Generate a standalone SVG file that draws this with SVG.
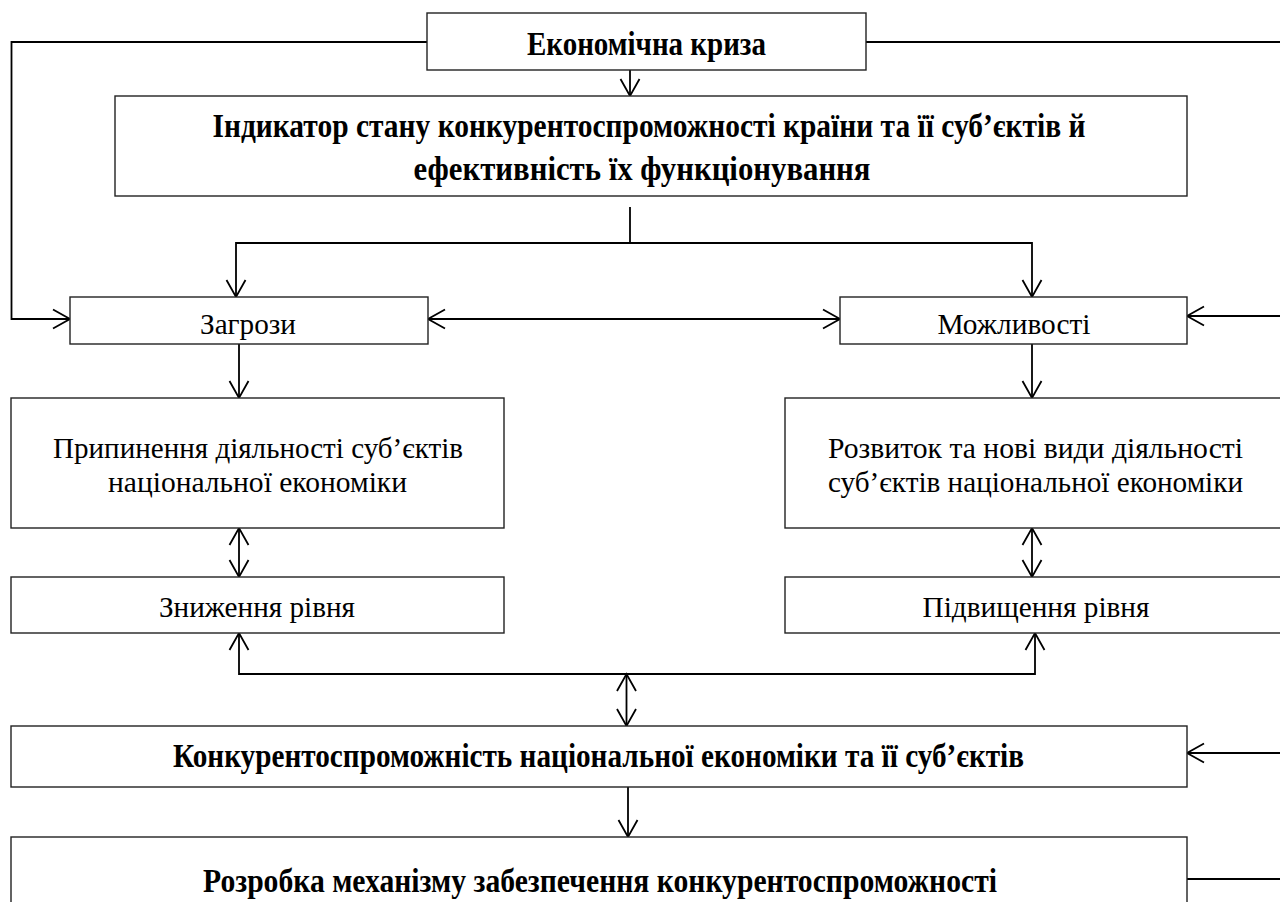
<svg xmlns="http://www.w3.org/2000/svg" width="1280" height="902" viewBox="0 0 1280 902">
<style>
.box{fill:#fff;stroke:#222;stroke-width:1.4}
.c{fill:none;stroke:#000;stroke-width:1.8}
.b{font-family:"Liberation Serif","Times New Roman",serif;font-weight:bold;font-size:34px;fill:#000}
.r{font-family:"Liberation Serif","Times New Roman",serif;font-size:30px;fill:#000}
</style>
<defs>
<marker id="ah" viewBox="-19 -11 21 22" refX="0" refY="0" markerWidth="21" markerHeight="22" markerUnits="userSpaceOnUse" orient="auto-start-reverse">
<path d="M-17,-9.5 L0,0 L-17,9.5" fill="none" stroke="#000" stroke-width="1.8"/>
</marker>
</defs>
<rect width="1280" height="902" fill="#fff"/>
<g id="connectors">
<polyline class="c" points="427,42 11.5,42 11.5,319 70,319" marker-end="url(#ah)"/>
<line class="c" x1="866" y1="42" x2="1282" y2="42"/>
<line class="c" x1="630" y1="70" x2="630" y2="96" marker-end="url(#ah)"/>
<line class="c" x1="630" y1="207" x2="630" y2="243"/>
<polyline class="c" points="236,297 236,243 1032,243 1032,297" marker-start="url(#ah)" marker-end="url(#ah)"/>
<line class="c" x1="428" y1="319" x2="840" y2="319" marker-start="url(#ah)" marker-end="url(#ah)"/>
<line class="c" x1="1282" y1="316" x2="1187" y2="316" marker-end="url(#ah)"/>
<line class="c" x1="239" y1="344" x2="239" y2="398" marker-end="url(#ah)"/>
<line class="c" x1="1032" y1="344" x2="1032" y2="398" marker-end="url(#ah)"/>
<line class="c" x1="239" y1="528" x2="239" y2="577" marker-start="url(#ah)" marker-end="url(#ah)"/>
<line class="c" x1="1032" y1="528" x2="1032" y2="577" marker-start="url(#ah)" marker-end="url(#ah)"/>
<polyline class="c" points="239,633 239,674 1035,674 1035,633" marker-start="url(#ah)" marker-end="url(#ah)"/>
<line class="c" x1="626.5" y1="674" x2="626.5" y2="726" marker-start="url(#ah)" marker-end="url(#ah)"/>
<line class="c" x1="1282" y1="753" x2="1187" y2="753" marker-end="url(#ah)"/>
<line class="c" x1="628" y1="787" x2="628" y2="837" marker-end="url(#ah)"/>
<line class="c" x1="1187" y1="879" x2="1282" y2="879"/>
</g>
<g id="crisis">
<rect class="box" x="427" y="13" width="439" height="57"/>
<text class="b" x="646.5" y="55" text-anchor="middle" textLength="239" lengthAdjust="spacingAndGlyphs">Економічна криза</text>
</g>
<g id="indicator">
<rect class="box" x="115" y="96" width="1072" height="100"/>
<text class="b" x="649" y="137" text-anchor="middle" textLength="873" lengthAdjust="spacingAndGlyphs">Індикатор стану конкурентоспроможності країни та її суб’єктів й</text>
<text class="b" x="642" y="180" text-anchor="middle" textLength="457" lengthAdjust="spacingAndGlyphs">ефективність їх функціонування</text>
</g>
<g id="threats">
<rect class="box" x="70" y="297" width="358" height="47"/>
<text class="r" x="248" y="334" text-anchor="middle" textLength="96" lengthAdjust="spacingAndGlyphs">Загрози</text>
</g>
<g id="opportunities">
<rect class="box" x="840" y="297" width="347" height="47"/>
<text class="r" x="1014" y="334" text-anchor="middle" textLength="153" lengthAdjust="spacingAndGlyphs">Можливості</text>
</g>
<g id="termination">
<rect class="box" x="11" y="398" width="493" height="130"/>
<text class="r" x="258" y="458" text-anchor="middle" textLength="410" lengthAdjust="spacingAndGlyphs">Припинення діяльності суб’єктів</text>
<text class="r" x="257.5" y="492" text-anchor="middle" textLength="299" lengthAdjust="spacingAndGlyphs">національної економіки</text>
</g>
<g id="development">
<rect class="box" x="785" y="398" width="510" height="130"/>
<text class="r" x="1035.5" y="458" text-anchor="middle" textLength="415" lengthAdjust="spacingAndGlyphs">Розвиток та нові види діяльності</text>
<text class="r" x="1035.5" y="492" text-anchor="middle" textLength="415" lengthAdjust="spacingAndGlyphs">суб’єктів національної економіки</text>
</g>
<g id="decrease">
<rect class="box" x="11" y="577" width="493" height="56"/>
<text class="r" x="257" y="617" text-anchor="middle" textLength="196" lengthAdjust="spacingAndGlyphs">Зниження рівня</text>
</g>
<g id="increase">
<rect class="box" x="785" y="577" width="510" height="56"/>
<text class="r" x="1036" y="617" text-anchor="middle" textLength="227" lengthAdjust="spacingAndGlyphs">Підвищення рівня</text>
</g>
<g id="competitiveness">
<rect class="box" x="11" y="726" width="1176" height="61"/>
<text class="b" x="598.5" y="767" text-anchor="middle" textLength="851" lengthAdjust="spacingAndGlyphs">Конкурентоспроможність національної економіки та її суб’єктів</text>
</g>
<g id="mechanism">
<rect class="box" x="11" y="837" width="1176" height="80"/>
<text class="b" x="600" y="892" text-anchor="middle" textLength="794" lengthAdjust="spacingAndGlyphs">Розробка механізму забезпечення конкурентоспроможності</text>
</g>
</svg>
